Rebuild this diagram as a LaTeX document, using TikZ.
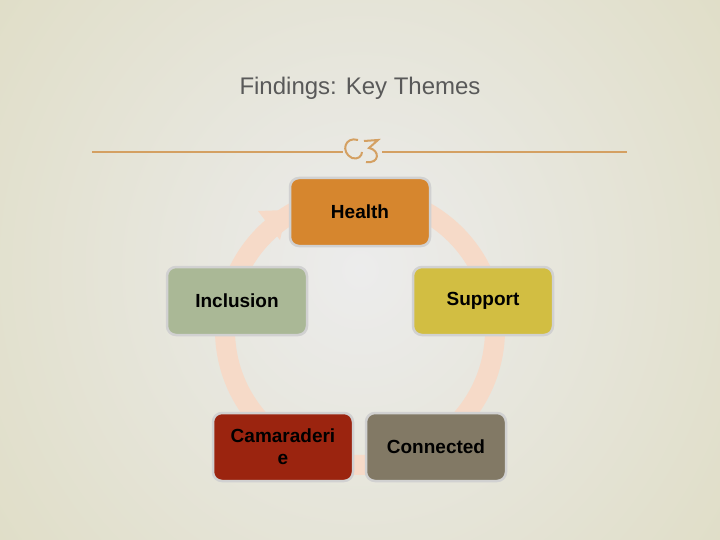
\documentclass[tikz,border=0pt]{standalone}
\usepackage{fontspec}
\setmainfont{Liberation Sans}
\usetikzlibrary{arrows.meta}
\definecolor{bgin}{RGB}{236,236,236}
\definecolor{bgmid}{RGB}{234,234,231}
\definecolor{bgout}{RGB}{224,222,200}
\definecolor{tan}{RGB}{212,160,98}
\definecolor{peach}{RGB}{246,218,200}
\definecolor{cH}{RGB}{214,134,46}
\definecolor{cI}{RGB}{170,184,150}
\definecolor{cS}{RGB}{210,190,66}
\definecolor{cC}{RGB}{155,36,15}
\definecolor{cN}{RGB}{130,121,101}
\tikzset{themebox/.style={draw=black!18,line width=2.5pt,rounded corners=9pt,minimum width=140pt,minimum height=68pt,align=center,font=\fontsize{19}{22}\selectfont\bfseries,text width=118pt}}
\begin{document}
\begin{tikzpicture}[x=1pt,y=-1pt]
\useasboundingbox (0,0) rectangle (720,540);
\begin{scope}
\clip (0,0) rectangle (720,540);
\shade[inner color=bgin,middle color=bgmid,outer color=bgout] (-80,-200) rectangle (800,740);
\end{scope}
\node[font=\fontsize{24}{26}\selectfont,text=black!65] (title) at (360,88) {Findings: Key Themes};
\coordinate (l1) at (92,152); \coordinate (l2) at (343,152);
\coordinate (r1) at (382,152); \coordinate (r2) at (627,152);
\draw[tan,line width=1.5pt] (l1) -- (l2);
\draw[tan,line width=1.5pt] (r1) -- (r2);
\draw[tan,line width=2pt] (358,140) .. controls (345,136) and (340,152) .. (352,158) .. controls (358,160) and (362,156) .. (362,152);
\draw[tan,line width=2pt] (364,141) -- (378,140) -- (369,148) .. controls (380,150) and (380,164) .. (366,162);
\draw[peach,line width=20pt] (360,330) circle[radius=135];
\fill[peach] (287,210) -- (258,211) -- (280,240) -- cycle;
\node[themebox,fill=cH] (h) at (360,212) {Health};
\node[themebox,fill=cI] (i) at (237,301) {Inclusion};
\node[themebox,fill=cS] (s) at (483,301) {Support};
\node[themebox,fill=cC] (c) at (283,447) {Camaraderi\\e};
\node[themebox,fill=cN] (n) at (436,447) {Connected};
\end{tikzpicture}
\end{document}
